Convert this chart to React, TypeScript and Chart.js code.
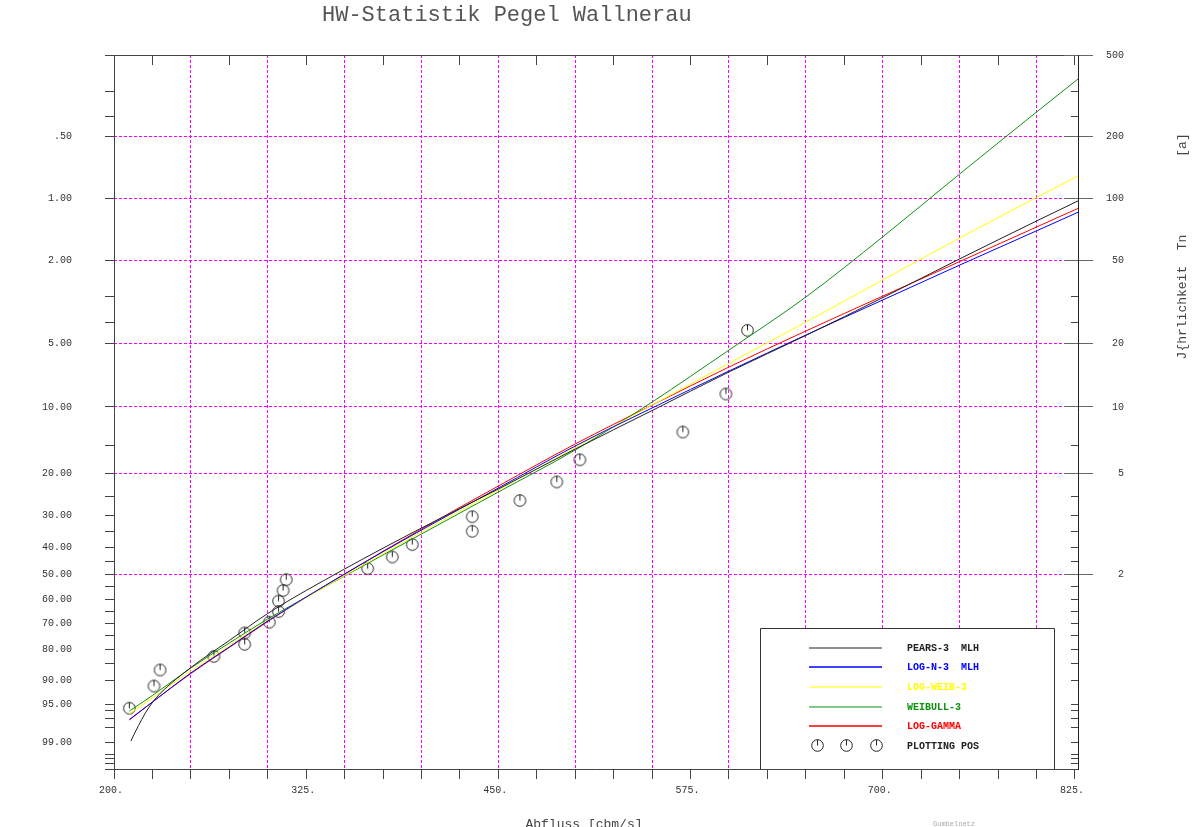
import React, { useEffect, useRef } from 'react';
import { Chart, registerables } from 'chart.js';

Chart.register(...registerables);

const FONT = "'Liberation Mono', 'DejaVu Sans Mono', monospace";

const TITLE = 'HW-Statistik Pegel Wallnerau';
const X_TITLE = 'Abfluss [cbm/s]';
const RIGHT_TITLE = 'J{hrlichkeit  Tn';
const RIGHT_UNIT = '[a]';
const PAPER_NOTE = 'Gumbelnetz';

// Left axis: exceedance probability in %
const leftMajorPercents = [0.5, 1, 2, 5, 10, 20, 30, 40, 50, 60, 70, 80, 90, 95, 99];
const leftMajorLabels = ['.50', '1.00', '2.00', '5.00', '10.00', '20.00', '30.00', '40.00', '50.00', '60.00', '70.00', '80.00', '90.00', '95.00', '99.00'];
const leftMinorPercents = [0.2, 0.3, 0.4, 3, 4, 15, 25, 35, 45, 55, 65, 75, 85, 96, 97, 98, 99.5, 99.6, 99.7, 99.8];

// Right axis: return period in years
const returnPeriods = [500, 200, 100, 50, 20, 10, 5, 2];
const returnLabels = ['500', '200', '100', '50', '20', '10', '5', '2'];

// Bottom axis: discharge
const xTickValues = [200, 225, 250, 275, 300, 325, 350, 375, 400, 425, 450, 475, 500, 525, 550, 575, 600, 625, 650, 675, 700, 725, 750, 775, 800, 825];
const xLabelValues = [200, 325, 450, 575, 700, 825];
const xLabels = ['200.', '325.', '450.', '575.', '700.', '825.'];
const xGridValues = [250, 300, 350, 400, 450, 500, 550, 600, 650, 700, 750, 800];
const topTickValues = [225, 275, 325, 375, 425, 475, 525, 575, 625, 675, 725, 775, 825];

// Fitted distributions: discharge [cbm/s] vs exceedance probability [%]
const dischargeQ = [210, 225, 250, 275, 300, 350, 400, 450, 500, 550, 600, 650, 700, 750, 800, 827];
const dischargePE3 = [211, 213, 216, 220, 225, 230, 250, 275, 300, 350, 400, 450, 500, 550, 600, 650, 700, 750, 800, 827];
const pPears3 = [98.93, 98.52, 97.78, 96.47, 94.71, 92.97, 86.22, 76.82, 66.0, 47.98, 33.76, 23.32, 15.57, 10.39, 6.86, 4.6, 3.03, 1.97, 1.29, 1.03];
const pLogN3 = [97.15, 94.62, 87.85, 79.26, 69.08, 49.92, 34.38, 23.09, 15.09, 10.11, 6.79, 4.58, 3.11, 2.11, 1.44, 1.17];
const pLogWeib3 = [96.47, 93.88, 87.27, 78.7, 68.88, 50.5, 35.0, 23.55, 15.33, 9.8, 6.24, 3.97, 2.49, 1.56, 0.991, 0.779];
const pWeibull3 = [96.06, 93.39, 86.37, 77.77, 68.26, 50.7, 35.64, 24.01, 15.73, 9.49, 5.4, 3.01, 1.54, 0.762, 0.38, 0.262];
const pLogGamma = [97.21, 94.62, 88.0, 79.44, 69.29, 49.92, 34.07, 22.64, 14.78, 9.8, 6.5, 4.38, 2.98, 2.03, 1.38, 1.12];

// Observed annual maxima with plotting positions
const obsQ = [612, 598, 570, 503, 488, 464, 433, 433, 394, 381, 365, 312, 310, 307, 307, 301, 285, 285, 265, 230, 226, 210];
const obsP = [4.35, 8.7, 13.04, 17.39, 21.74, 26.09, 30.43, 34.78, 39.13, 43.48, 47.83, 52.17, 56.52, 60.87, 65.22, 69.57, 73.91, 78.26, 82.61, 86.96, 91.3, 95.65];

const seriesNames = ['PEARS-3  MLH', 'LOG-N-3  MLH', 'LOG-WEIB-3', 'WEIBULL-3', 'LOG-GAMMA', 'PLOTTING POS'];
const seriesColors = ['#222222', '#0000ff', '#ffff00', '#109010', '#ff0000', '#222222'];

const gumbel = (p: number) => -Math.log(-Math.log(1 - p / 100));
const Y_MIN = gumbel(99.8);
const Y_MAX = gumbel(0.2);
const MAGENTA = '#ff00ff';
const AXIS = '#444444';

function makeMarker(): HTMLCanvasElement {
  const c = document.createElement('canvas');
  c.width = 15;
  c.height = 15;
  const g = c.getContext('2d')!;
  g.strokeStyle = '#222';
  g.lineWidth = 1;
  g.beginPath();
  g.arc(7.5, 7.5, 5.8, 0, Math.PI * 2);
  g.stroke();
  g.beginPath();
  g.moveTo(7.5, 1.7);
  g.lineTo(7.5, 7.5);
  g.stroke();
  return c;
}

const al = (p: number) => Math.round(p - 0.5) + 0.5;

export default function App() {
  const ref = useRef<HTMLCanvasElement>(null);

  useEffect(() => {
    const canvas = ref.current;
    if (!canvas) return;
    const marker = makeMarker();

    const leftTicks = [
      ...leftMajorPercents.map((p, i) => ({ p, label: leftMajorLabels[i] })),
      ...leftMinorPercents.map((p) => ({ p, label: '' })),
    ]
      .sort((a, b) => a.p - b.p)
      .map((t) => ({ ...t, u: gumbel(t.p) }));
    const rightTicks = returnPeriods.map((T, i) => ({ p: 100 / T, u: gumbel(100 / T), label: returnLabels[i] }));
    const rightInner = leftTicks.filter((t) => !rightTicks.some((r) => Math.abs(r.p - t.p) < 1e-9));

    const toPts = (qs: number[], ps: number[]) => qs.map((q, i) => ({ x: q, y: gumbel(ps[i]) }));

    const lineDs = (label: string, color: string, qs: number[], ps: number[]) => ({
      type: 'line' as const,
      label,
      data: toPts(qs, ps),
      borderColor: color,
      backgroundColor: color,
      borderWidth: 1,
      pointRadius: 0,
      fill: false,
      cubicInterpolationMode: 'monotone' as const,
      xAxisID: 'x',
      yAxisID: 'y',
    });

    const decor = {
      id: 'decor',
      beforeDatasetsDraw(chart: any) {
        const { ctx, chartArea: a, scales } = chart;
        const sx = scales.x;
        const sy = scales.y;
        ctx.save();
        ctx.lineWidth = 1;
        ctx.strokeStyle = AXIS;
        ctx.setLineDash([]);
        ctx.beginPath();
        ctx.moveTo(a.left, al(a.top));
        ctx.lineTo(a.right, al(a.top));
        for (const v of topTickValues) {
          const px = al(sx.getPixelForValue(v));
          ctx.moveTo(px, a.top);
          ctx.lineTo(px, a.top + 10);
        }
        for (const t of rightInner) {
          const py = al(sy.getPixelForValue(t.u));
          ctx.moveTo(a.right - 7, py);
          ctx.lineTo(a.right, py);
        }
        ctx.stroke();
        ctx.strokeStyle = '#666';
        ctx.beginPath();
        for (const r of rightTicks) {
          const py = al(sy.getPixelForValue(r.u));
          ctx.moveTo(a.right - 14, py);
          ctx.lineTo(a.right, py);
        }
        ctx.stroke();
        ctx.restore();
      },
      afterDraw(chart: any) {
        const { ctx, chartArea: a } = chart;
        ctx.save();
        ctx.fillStyle = '#555';
        ctx.font = `22px ${FONT}`;
        ctx.textAlign = 'left';
        ctx.textBaseline = 'middle';
        ctx.fillText(TITLE, 322, 15);

        ctx.fillStyle = '#444';
        ctx.font = `13px ${FONT}`;
        ctx.textAlign = 'center';
        ctx.textBaseline = 'alphabetic';
        ctx.fillText(X_TITLE, 584, 828);

        ctx.save();
        ctx.translate(1186, 297);
        ctx.rotate(-Math.PI / 2);
        ctx.fillText(RIGHT_TITLE, 0, 0);
        ctx.restore();
        ctx.save();
        ctx.translate(1186, 145);
        ctx.rotate(-Math.PI / 2);
        ctx.fillText(RIGHT_UNIT, 0, 0);
        ctx.restore();

        ctx.fillStyle = '#aaa';
        ctx.font = `7px ${FONT}`;
        ctx.fillText(PAPER_NOTE, 954, 826);

        // legend box
        const bw = 294;
        const bx = a.right - 24 - bw;
        const by = a.bottom - 141;
        ctx.fillStyle = '#fff';
        ctx.fillRect(bx, by, bw, a.bottom - by - 1);
        ctx.strokeStyle = '#333';
        ctx.lineWidth = 1;
        ctx.beginPath();
        ctx.moveTo(al(bx), a.bottom);
        ctx.lineTo(al(bx), al(by));
        ctx.lineTo(al(bx + bw), al(by));
        ctx.lineTo(al(bx + bw), a.bottom);
        ctx.stroke();

        ctx.font = `bold 10px ${FONT}`;
        ctx.textAlign = 'left';
        ctx.textBaseline = 'middle';
        const dsets = chart.data.datasets;
        for (let i = 0; i < dsets.length; i++) {
          const ds = dsets[i];
          const ry = by + 19.7 + 19.6 * i;
          if (i < 5) {
            ctx.strokeStyle = ds.borderColor;
            ctx.lineWidth = i === 1 || i === 4 ? 1.6 : 1.2;
            ctx.beginPath();
            ctx.moveTo(bx + 49, Math.round(ry));
            ctx.lineTo(bx + 122, Math.round(ry));
            ctx.stroke();
          } else {
            for (const dx of [57, 86, 116]) {
              ctx.drawImage(marker, Math.round(bx + dx - 7.5), Math.round(ry - 7.5));
            }
          }
          ctx.fillStyle = ds.borderColor;
          ctx.fillText(ds.label, bx + 147, ry + 0.5);
        }
        ctx.restore();
      },
    };

    const chart = new Chart(canvas, {
      type: 'line',
      data: {
        datasets: [
          lineDs(seriesNames[0], seriesColors[0], dischargePE3, pPears3),
          lineDs(seriesNames[1], seriesColors[1], dischargeQ, pLogN3),
          lineDs(seriesNames[2], seriesColors[2], dischargeQ, pLogWeib3),
          lineDs(seriesNames[3], seriesColors[3], dischargeQ, pWeibull3),
          lineDs(seriesNames[4], seriesColors[4], dischargeQ, pLogGamma),
          {
            type: 'scatter' as const,
            label: seriesNames[5],
            data: toPts(obsQ, obsP),
            borderColor: seriesColors[5],
            backgroundColor: seriesColors[5],
            pointStyle: marker as any,
            showLine: false,
            xAxisID: 'x',
            yAxisID: 'y',
          } as any,
        ],
      },
      options: {
        animation: false,
        responsive: true,
        maintainAspectRatio: false,
        events: [],
        layout: { padding: { top: 55, left: 0, right: 73, bottom: 0 } },
        plugins: {
          legend: { display: false },
          tooltip: { enabled: false },
          title: { display: false },
        },
        scales: {
          x: {
            type: 'linear',
            position: 'bottom',
            min: 200,
            max: 827,
            afterBuildTicks: (s: any) => {
              s.ticks = xTickValues.map((v) => ({ value: v }));
            },
            afterFit: (s: any) => {
              s.height = 58;
            },
            ticks: {
              autoSkip: false,
              maxRotation: 0,
              minRotation: 0,
              padding: 5,
              labelOffset: -3,
              color: '#333',
              font: { family: FONT, size: 10 },
              callback: (v: any) => {
                const i = xLabelValues.indexOf(Number(v));
                return i >= 0 ? xLabels[i] : '';
              },
            },
            grid: {
              drawOnChartArea: true,
              tickLength: 10,
              lineWidth: 1,
              color: (c: any) => (c.tick && xGridValues.includes(c.tick.value) ? MAGENTA : 'transparent'),
              tickColor: AXIS,
            },
            border: { color: AXIS, dash: [3, 2] },
          },
          y: {
            type: 'linear',
            position: 'left',
            min: Y_MIN,
            max: Y_MAX,
            afterBuildTicks: (s: any) => {
              s.ticks = leftTicks.map((t) => ({ value: t.u }));
            },
            afterFit: (s: any) => {
              s.width = 114;
            },
            ticks: {
              autoSkip: false,
              padding: 33,
              color: '#333',
              font: { family: FONT, size: 10 },
              callback: (_v: any, i: number) => leftTicks[i].label,
            },
            grid: { drawOnChartArea: false, tickLength: 9, color: AXIS, tickColor: AXIS },
            border: { color: AXIS },
          },
          y2: {
            type: 'linear',
            position: 'right',
            min: Y_MIN,
            max: Y_MAX,
            afterBuildTicks: (s: any) => {
              s.ticks = rightTicks.map((t) => ({ value: t.u }));
            },
            afterFit: (s: any) => {
              s.width = 46;
            },
            ticks: {
              autoSkip: false,
              padding: 13,
              crossAlign: 'far',
              color: '#333',
              font: { family: FONT, size: 10 },
              callback: (_v: any, i: number) => rightTicks[i].label,
            },
            grid: {
              drawOnChartArea: true,
              tickLength: 15,
              lineWidth: 1,
              color: (c: any) => (c.tick && c.tick.value > Y_MAX - 1e-6 ? 'transparent' : MAGENTA),
              tickColor: '#666',
            },
            border: { color: '#222', dash: [3, 2] },
          },
        },
      } as any,
      plugins: [decor],
    });

    return () => chart.destroy();
  }, []);

  return (
    <div style={{ position: 'absolute', left: 0, top: 0, width: 1197, height: 827, background: '#fff' }}>
      <canvas ref={ref} />
    </div>
  );
}
